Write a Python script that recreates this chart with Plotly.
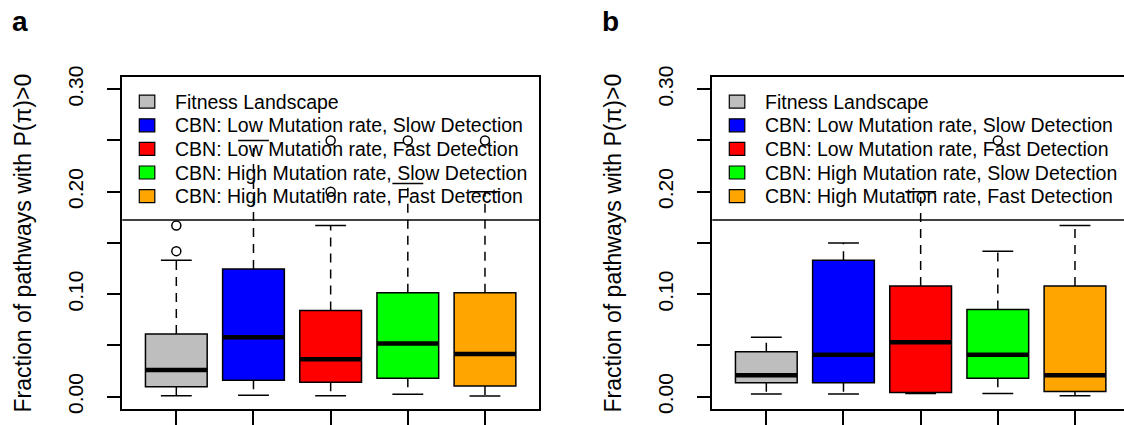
import plotly.graph_objects as go

# ---------------- data ----------------
groups = [1, 2, 3, 4, 5]
legend_labels = [
    "Fitness Landscape",
    "CBN: Low Mutation rate, Slow Detection",
    "CBN: Low Mutation rate, Fast Detection",
    "CBN: High Mutation rate, Slow Detection",
    "CBN: High Mutation rate, Fast Detection",
]
box_colors = ["#BEBEBE", "#0000FF", "#FF0000", "#00FF00", "#FFA500"]

a_lower = [0.001, 0.0013, 0.001, 0.0023, 0.0007]
a_q1 = [0.0098, 0.016, 0.014, 0.018, 0.0104]
a_med = [0.026, 0.058, 0.0365, 0.052, 0.0417]
a_q3 = [0.0612, 0.1246, 0.084, 0.1015, 0.1015]
a_upper = [0.133, 0.25, 0.167, 0.208, 0.2]
a_outliers = [[0.142, 0.167], [], [0.2, 0.25], [0.25], [0.25]]

b_lower = [0.0026, 0.0026, 0.003, 0.003, 0.001]
b_q1 = [0.0137, 0.0137, 0.004, 0.018, 0.005]
b_med = [0.021, 0.041, 0.053, 0.041, 0.021]
b_q3 = [0.0439, 0.133, 0.108, 0.085, 0.108]
b_upper = [0.058, 0.15, 0.2, 0.142, 0.167]
b_outliers = [[], [], [], [0.25], []]

y_tickvals = [0.0, 0.05, 0.10, 0.15, 0.20, 0.25, 0.30]
y_ticktext = ["0.00", "", "0.10", "", "0.20", "", "0.30"]
y_title = "Fraction of pathways with P(\u03c0)>0"
panel_letters = ["a", "b"]

# ---------------- layout constants ----------------
W, H = 1124, 425
FONT = "Liberation Sans"
BOXW = 0.8
CAPW = 0.4
LW = 1.5

fig = go.Figure()


def add_panel(xa, ya, lower, q1, med, q3, upper, outliers):
    fig.add_trace(go.Bar(
        x=groups, base=q1, y=[h - l for h, l in zip(q3, q1)], width=BOXW,
        marker=dict(color=box_colors, line=dict(color="black", width=LW)),
        xaxis=xa, yaxis=ya, showlegend=False, hoverinfo="skip"))
    wx, wy = [], []
    for g, lo, a, b, hi in zip(groups, lower, q1, q3, upper):
        wx += [g, g, None, g, g, None]
        wy += [a, lo, None, b, hi, None]
    fig.add_trace(go.Scatter(x=wx, y=wy, mode="lines",
                             line=dict(color="black", width=LW, dash="9px,7px"),
                             xaxis=xa, yaxis=ya, showlegend=False, hoverinfo="skip"))
    cx, cy = [], []
    for g, lo, hi in zip(groups, lower, upper):
        cx += [g - CAPW / 2, g + CAPW / 2, None, g - CAPW / 2, g + CAPW / 2, None]
        cy += [lo, lo, None, hi, hi, None]
    fig.add_trace(go.Scatter(x=cx, y=cy, mode="lines",
                             line=dict(color="black", width=LW),
                             xaxis=xa, yaxis=ya, showlegend=False, hoverinfo="skip"))
    mx, my = [], []
    for g, m in zip(groups, med):
        mx += [g - BOXW / 2, g + BOXW / 2, None]
        my += [m, m, None]
    fig.add_trace(go.Scatter(x=mx, y=my, mode="lines",
                             line=dict(color="black", width=4.5),
                             xaxis=xa, yaxis=ya, showlegend=False, hoverinfo="skip"))
    ox, oy = [], []
    for g, outs in zip(groups, outliers):
        for o in outs:
            ox.append(g)
            oy.append(o)
    fig.add_trace(go.Scatter(x=ox, y=oy, mode="markers",
                             marker=dict(symbol="circle-open", size=9, color="black",
                                         line=dict(width=1.5)),
                             xaxis=xa, yaxis=ya, showlegend=False, hoverinfo="skip"))


add_panel("x", "y", a_lower, a_q1, a_med, a_q3, a_upper, a_outliers)
add_panel("x2", "y2", b_lower, b_q1, b_med, b_q3, b_upper, b_outliers)

# pixel geometry
left_a, right_a = 122.3, 539.0
left_b = 712.3
unit = (right_a - left_a) / 5.4
top_px, bot_px = 77.0, 409.3
ydom = [(H - bot_px) / H, (H - top_px) / H]
yrange = [-0.0123, 0.3119]

common_x = dict(showgrid=False, zeroline=False, showline=True, linecolor="black",
                linewidth=LW, mirror=True, ticks="outside", ticklen=14,
                tickwidth=LW, tickcolor="black", tickvals=groups,
                showticklabels=False, fixedrange=True, automargin=False)
common_y = dict(showgrid=False, zeroline=False, showline=True, linecolor="black",
                linewidth=LW, ticks="outside", ticklen=14, tickwidth=LW,
                tickcolor="black", tickvals=y_tickvals, ticktext=y_ticktext,
                tickangle=-90, tickfont=dict(family=FONT, size=21, color="black"),
                ticklabelstandoff=15, range=yrange, domain=ydom, fixedrange=True,
                automargin=False)

fig.update_layout(
    template="none",
    width=W, height=H, margin=dict(l=0, r=0, t=0, b=0, pad=0, autoexpand=False),
    paper_bgcolor="white", plot_bgcolor="white", barmode="overlay",
    showlegend=False,
    xaxis=dict(common_x, domain=[left_a / W, right_a / W], range=[0.3, 5.7], anchor="y"),
    yaxis=dict(common_y, anchor="x", mirror=True),
    xaxis2=dict(common_x, domain=[left_b / W, 1.0],
                range=[0.3, 0.3 + (W - left_b) / unit], anchor="y2"),
    yaxis2=dict(common_y, anchor="x2", mirror=False),
)

# legend (drawn like R's legend: box line, swatches, text)
row0 = 101.7
row_gap = 23.6
legend_bottom = 220.0
shapes = []
annotations = []
for p, (left, right) in enumerate([(left_a, right_a), (left_b, W + 5)]):
    shapes.append(dict(type="line", xref="paper", yref="paper",
                       x0=left / W, x1=min(right, W) / W,
                       y0=(H - legend_bottom) / H, y1=(H - legend_bottom) / H,
                       line=dict(color="black", width=LW), layer="above"))
    for i, (lab, col) in enumerate(zip(legend_labels, box_colors)):
        yc = row0 + i * row_gap
        shapes.append(dict(type="rect", xref="paper", yref="paper",
                           x0=(left + 17) / W, x1=(left + 32.5) / W,
                           y0=(H - (yc + 6.5)) / H, y1=(H - (yc - 6.5)) / H,
                           fillcolor=col, line=dict(color="black", width=1.2),
                           layer="above"))
        annotations.append(dict(text=lab, xref="paper", yref="paper",
                                x=(left + 51) / W, y=(H - yc) / H,
                                xanchor="left", yanchor="middle", showarrow=False,
                                font=dict(family=FONT, size=19.5, color="black")))
    # y title
    annotations.append(dict(text=y_title, xref="paper", yref="paper",
                            x=(left - 99) / W, y=(ydom[0] + ydom[1]) / 2,
                            xanchor="center", yanchor="middle", textangle=-90,
                            showarrow=False,
                            font=dict(family=FONT, size=23, color="black")))
    # panel letter
    annotations.append(dict(text="<b>%s</b>" % panel_letters[p], xref="paper", yref="paper",
                            x=(left - 102) / W, y=(H - 21) / H,
                            xanchor="center", yanchor="middle", showarrow=False,
                            font=dict(family=FONT, size=28, color="black")))

fig.update_layout(shapes=shapes, annotations=annotations)
fig.write_html("out.html")
